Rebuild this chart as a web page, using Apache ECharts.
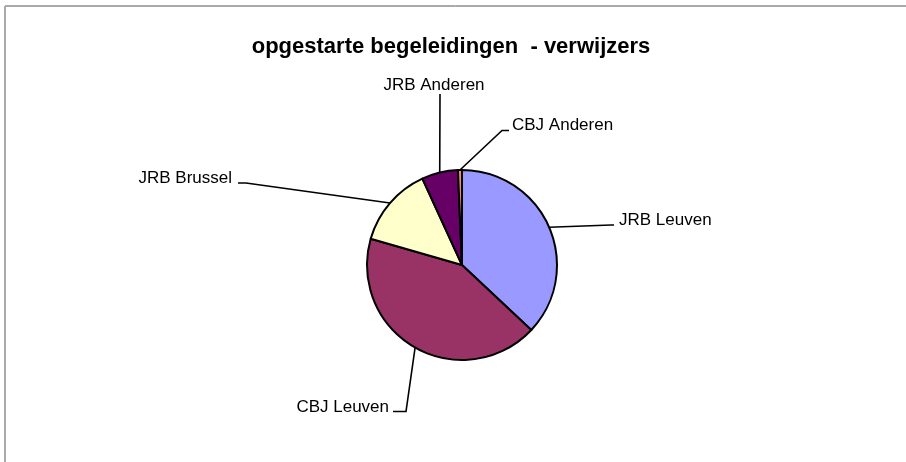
<!DOCTYPE html>
<html><head><meta charset="utf-8">
<script src="https://cdn.jsdelivr.net/npm/echarts@6/dist/echarts.min.js"></script>
<style>html,body{margin:0;padding:0;background:#fff}#c{width:906px;height:462px}</style>
</head><body><div id="c"></div>
<script>
const chartTitle = 'opgestarte begeleidingen  - verwijzers';
const categories = ['JRB Leuven', 'CBJ Leuven', 'JRB Brussel', 'JRB Anderen', 'CBJ Anderen'];
const values = [54, 62, 20, 9, 1];
const colors = ['#9999FF', '#993366', '#FFFFCC', '#660066', '#FF8080'];

// label placement (styling only): text anchor + leader line bend/end
const labelStyles = [
  { x: 619, y: 220, align: 'left',   bend: [611, 225], end: [614, 225] },
  { x: 389, y: 407, align: 'right',  bend: [406, 411.5], end: [393, 411.5] },
  { x: 232, y: 178, align: 'right',  bend: [246, 183], end: [238, 183] },
  { x: 434, y: 85,  align: 'center', bend: [440, 95], end: [440, 94] },
  { x: 512, y: 125, align: 'left',   bend: [502, 130.5], end: [509, 130.5] }
];

const chart = echarts.init(document.getElementById('c'), null, { renderer: 'canvas' });
const FONT = '"Liberation Sans", Arial, sans-serif';
chart.setOption({
  animation: false,
  backgroundColor: '#ffffff',
  title: {
    text: chartTitle,
    left: 446,
    top: 31,
    textAlign: 'center',
    textStyle: { fontFamily: FONT, fontWeight: 'bold', fontSize: 22, color: '#000' }
  },
  graphic: [
    { type: 'line', shape: { x1: 5, y1: 6, x2: 906, y2: 6 }, style: { stroke: '#555', lineWidth: 1 } },
    { type: 'line', shape: { x1: 5, y1: 6, x2: 5, y2: 462 }, style: { stroke: '#aaa', lineWidth: 2 } }
  ],
  series: [{
    type: 'pie',
    center: [462, 265],
    radius: 95,
    startAngle: 90,
    clockwise: true,
    avoidLabelOverlap: false,
    data: categories.map((n, i) => ({ name: n, value: values[i], itemStyle: { color: colors[i] } })),
    itemStyle: { borderColor: '#000', borderWidth: 2 },
    label: {
      show: true,
      position: 'outside',
      formatter: '{b}',
      color: '#000',
      fontFamily: FONT,
      fontSize: 17
    },
    labelLine: { show: true, length: 10, length2: 10, lineStyle: { color: '#000', width: 1.6 } },
    labelLayout: function (p) {
      const s = labelStyles[p.dataIndex];
      const pts = p.labelLinePoints;
      const start = pts && pts[0] ? pts[0] : s.bend;
      return {
        x: s.x, y: s.y, align: s.align, verticalAlign: 'middle',
        labelLinePoints: [start, s.bend, s.end]
      };
    },
    emphasis: { disabled: true }
  }]
});
</script>
</body></html>
